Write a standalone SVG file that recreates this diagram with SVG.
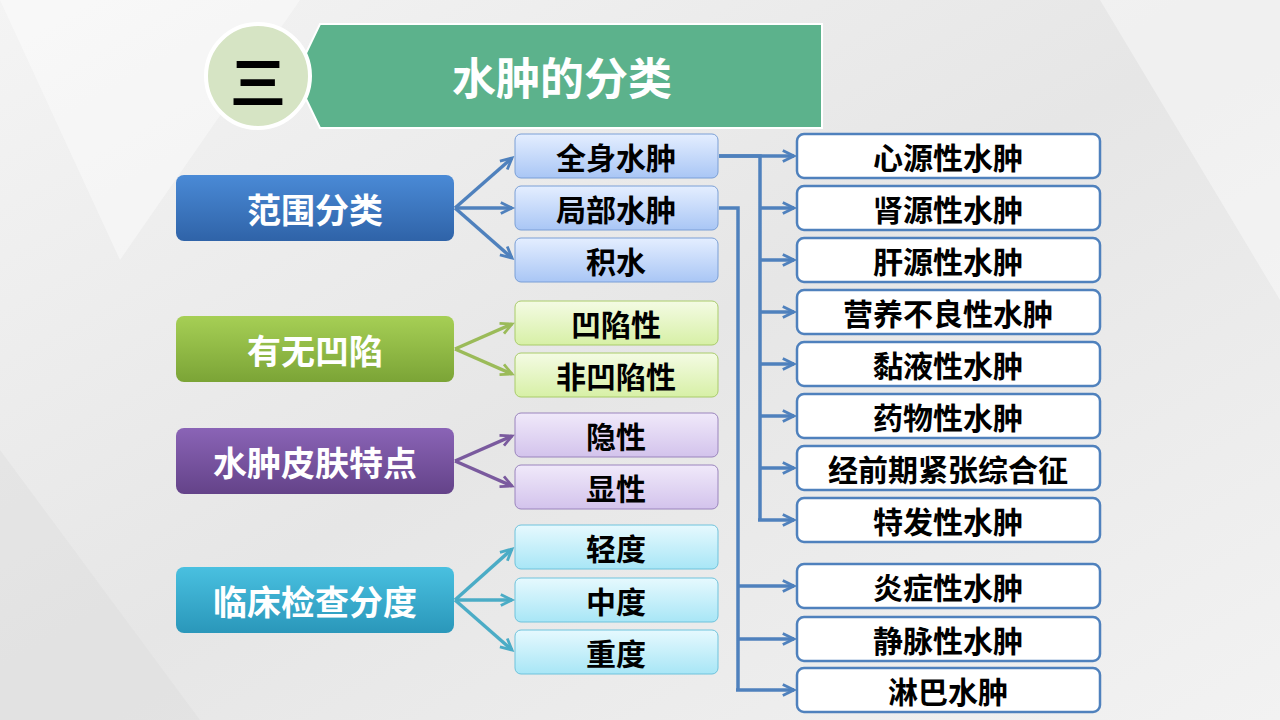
<svg xmlns="http://www.w3.org/2000/svg" width="1280" height="720" viewBox="0 0 1280 720">
<defs>
<linearGradient id="bg" x1="0" y1="0" x2="1" y2="1"><stop offset="0" stop-color="#f4f4f4"/><stop offset="0.5" stop-color="#e6e6e6"/><stop offset="1" stop-color="#f2f2f2"/></linearGradient>
<linearGradient id="gB" x1="0" y1="0" x2="0" y2="1"><stop offset="0" stop-color="#4a8ad6"/><stop offset="1" stop-color="#2f63a8"/></linearGradient>
<linearGradient id="gG" x1="0" y1="0" x2="0" y2="1"><stop offset="0" stop-color="#a6cf55"/><stop offset="1" stop-color="#7ba436"/></linearGradient>
<linearGradient id="gP" x1="0" y1="0" x2="0" y2="1"><stop offset="0" stop-color="#8a64b6"/><stop offset="1" stop-color="#644389"/></linearGradient>
<linearGradient id="gC" x1="0" y1="0" x2="0" y2="1"><stop offset="0" stop-color="#49c0e0"/><stop offset="1" stop-color="#2a97ba"/></linearGradient>
<linearGradient id="lB" x1="0" y1="0" x2="0" y2="1"><stop offset="0" stop-color="#e4eeff"/><stop offset="1" stop-color="#a9c6f5"/></linearGradient>
<linearGradient id="lG" x1="0" y1="0" x2="0" y2="1"><stop offset="0" stop-color="#f4fbe4"/><stop offset="1" stop-color="#d7f0a6"/></linearGradient>
<linearGradient id="lP" x1="0" y1="0" x2="0" y2="1"><stop offset="0" stop-color="#f0e9fa"/><stop offset="1" stop-color="#d3c3ec"/></linearGradient>
<linearGradient id="lC" x1="0" y1="0" x2="0" y2="1"><stop offset="0" stop-color="#e6f9fe"/><stop offset="1" stop-color="#a8e6f6"/></linearGradient>
<marker id="aB" viewBox="0 0 10 10" refX="9" refY="5" markerWidth="14" markerHeight="14" orient="auto" markerUnits="userSpaceOnUse" overflow="visible"><path d="M1,1 L9,5 L1,9" fill="none" stroke="#4f81bd" stroke-width="2"/></marker>
<marker id="aG" viewBox="0 0 10 10" refX="9" refY="5" markerWidth="14" markerHeight="14" orient="auto" markerUnits="userSpaceOnUse" overflow="visible"><path d="M1,1 L9,5 L1,9" fill="none" stroke="#9bbb59" stroke-width="2"/></marker>
<marker id="aP" viewBox="0 0 10 10" refX="9" refY="5" markerWidth="14" markerHeight="14" orient="auto" markerUnits="userSpaceOnUse" overflow="visible"><path d="M1,1 L9,5 L1,9" fill="none" stroke="#7a5a9e" stroke-width="2"/></marker>
<marker id="aC" viewBox="0 0 10 10" refX="9" refY="5" markerWidth="14" markerHeight="14" orient="auto" markerUnits="userSpaceOnUse" overflow="visible"><path d="M1,1 L9,5 L1,9" fill="none" stroke="#4bacc6" stroke-width="2"/></marker>
</defs>
<style>
text{font-family:"Noto Sans CJK SC","Noto Sans",sans-serif;font-weight:bold;text-anchor:middle;dominant-baseline:central}
.big{font-size:34px;fill:#fff}
.mid{font-size:30px;fill:#000}
.r{fill:#fff;stroke:#4f81bd;stroke-width:2.5}
.c{fill:none;stroke-width:3.5}
</style>
<rect width="1280" height="720" fill="url(#bg)"/>
<polygon points="0,0 300,0 120,260" fill="#fff" opacity="0.4"/>
<polygon points="1100,0 1280,0 1280,300" fill="#fff" opacity="0.4"/>
<polygon points="0,450 200,720 0,720" fill="#ddd" opacity="0.4"/>
<g id="title">
<polygon points="295,76 320,24 822,24 822,128 320,128" fill="#5cb28c" stroke="#fff" stroke-width="2"/>
<text x="562" y="76" style="font-size:44px;fill:#fff">水肿的分类</text>
<circle cx="258" cy="76" r="52" fill="#d6e4c4" stroke="#fff" stroke-width="4"/>
<text x="258" y="78" style="font-size:56px;fill:#000">三</text>
</g>
<g id="left">
<rect x="176" y="175" width="278" height="66" rx="8" fill="url(#gB)"/><text class="big" x="315" y="208">范围分类</text>
<rect x="176" y="316" width="278" height="66" rx="8" fill="url(#gG)"/><text class="big" x="315" y="349">有无凹陷</text>
<rect x="176" y="428" width="278" height="66" rx="8" fill="url(#gP)"/><text class="big" x="315" y="461">水肿皮肤特点</text>
<rect x="176" y="567" width="278" height="66" rx="8" fill="url(#gC)"/><text class="big" x="315" y="600">临床检查分度</text>
</g>
<g id="middle">
<rect x="515" y="134" width="203" height="44" rx="6" fill="url(#lB)" stroke="#7a9fd6"/><text class="mid" x="616" y="156">全身水肿</text>
<rect x="515" y="186" width="203" height="44" rx="6" fill="url(#lB)" stroke="#7a9fd6"/><text class="mid" x="616" y="208">局部水肿</text>
<rect x="515" y="238" width="203" height="44" rx="6" fill="url(#lB)" stroke="#7a9fd6"/><text class="mid" x="616" y="260">积水</text>
<rect x="515" y="301" width="203" height="44" rx="6" fill="url(#lG)" stroke="#a9cc6a"/><text class="mid" x="616" y="323">凹陷性</text>
<rect x="515" y="353" width="203" height="44" rx="6" fill="url(#lG)" stroke="#a9cc6a"/><text class="mid" x="616" y="375">非凹陷性</text>
<rect x="515" y="413" width="203" height="44" rx="6" fill="url(#lP)" stroke="#9a84bd"/><text class="mid" x="616" y="435">隐性</text>
<rect x="515" y="465" width="203" height="44" rx="6" fill="url(#lP)" stroke="#9a84bd"/><text class="mid" x="616" y="487">显性</text>
<rect x="515" y="525" width="203" height="44" rx="6" fill="url(#lC)" stroke="#6ec3dc"/><text class="mid" x="616" y="547">轻度</text>
<rect x="515" y="578" width="203" height="44" rx="6" fill="url(#lC)" stroke="#6ec3dc"/><text class="mid" x="616" y="600">中度</text>
<rect x="515" y="630" width="203" height="44" rx="6" fill="url(#lC)" stroke="#6ec3dc"/><text class="mid" x="616" y="652">重度</text>
</g>
<g id="right">
<rect class="r" x="797" y="134" width="303" height="44" rx="7"/><text class="mid" x="948" y="156">心源性水肿</text>
<rect class="r" x="797" y="186" width="303" height="44" rx="7"/><text class="mid" x="948" y="208">肾源性水肿</text>
<rect class="r" x="797" y="238" width="303" height="44" rx="7"/><text class="mid" x="948" y="260">肝源性水肿</text>
<rect class="r" x="797" y="290" width="303" height="44" rx="7"/><text class="mid" x="948" y="312">营养不良性水肿</text>
<rect class="r" x="797" y="342" width="303" height="44" rx="7"/><text class="mid" x="948" y="364">黏液性水肿</text>
<rect class="r" x="797" y="394" width="303" height="44" rx="7"/><text class="mid" x="948" y="416">药物性水肿</text>
<rect class="r" x="797" y="446" width="303" height="44" rx="7"/><text class="mid" x="948" y="468">经前期紧张综合征</text>
<rect class="r" x="797" y="498" width="303" height="44" rx="7"/><text class="mid" x="948" y="520">特发性水肿</text>
<rect class="r" x="797" y="564" width="303" height="44" rx="7"/><text class="mid" x="948" y="586">炎症性水肿</text>
<rect class="r" x="797" y="617" width="303" height="44" rx="7"/><text class="mid" x="948" y="639">静脉性水肿</text>
<rect class="r" x="797" y="668" width="303" height="44" rx="7"/><text class="mid" x="948" y="690">淋巴水肿</text>
</g>
<g id="connectors">
<g stroke="#4f81bd" class="c">
<line x1="455" y1="208" x2="512" y2="158" marker-end="url(#aB)"/>
<line x1="455" y1="208" x2="512" y2="208" marker-end="url(#aB)"/>
<line x1="455" y1="208" x2="512" y2="258" marker-end="url(#aB)"/>
<polyline points="719,156 760,156 760,520" fill="none"/>
<polyline points="719,208 738,208 738,690" fill="none"/>
<line x1="719" y1="156" x2="794" y2="156" marker-end="url(#aB)"/>
<line x1="760" y1="208" x2="794" y2="208" marker-end="url(#aB)"/>
<line x1="760" y1="260" x2="794" y2="260" marker-end="url(#aB)"/>
<line x1="760" y1="312" x2="794" y2="312" marker-end="url(#aB)"/>
<line x1="760" y1="364" x2="794" y2="364" marker-end="url(#aB)"/>
<line x1="760" y1="416" x2="794" y2="416" marker-end="url(#aB)"/>
<line x1="760" y1="468" x2="794" y2="468" marker-end="url(#aB)"/>
<line x1="758" y1="520" x2="794" y2="520" marker-end="url(#aB)"/>
<line x1="738" y1="586" x2="794" y2="586" marker-end="url(#aB)"/>
<line x1="738" y1="639" x2="794" y2="639" marker-end="url(#aB)"/>
<line x1="736" y1="690" x2="794" y2="690" marker-end="url(#aB)"/>
</g>
<g stroke="#9bbb59" class="c">
<line x1="455" y1="349" x2="512" y2="324" marker-end="url(#aG)"/>
<line x1="455" y1="349" x2="512" y2="374" marker-end="url(#aG)"/>
</g>
<g stroke="#7a5a9e" class="c">
<line x1="455" y1="461" x2="512" y2="436" marker-end="url(#aP)"/>
<line x1="455" y1="461" x2="512" y2="486" marker-end="url(#aP)"/>
</g>
<g stroke="#4bacc6" class="c">
<line x1="455" y1="600" x2="512" y2="549" marker-end="url(#aC)"/>
<line x1="455" y1="600" x2="512" y2="600" marker-end="url(#aC)"/>
<line x1="455" y1="600" x2="512" y2="650" marker-end="url(#aC)"/>
</g>
</g>
</svg>
